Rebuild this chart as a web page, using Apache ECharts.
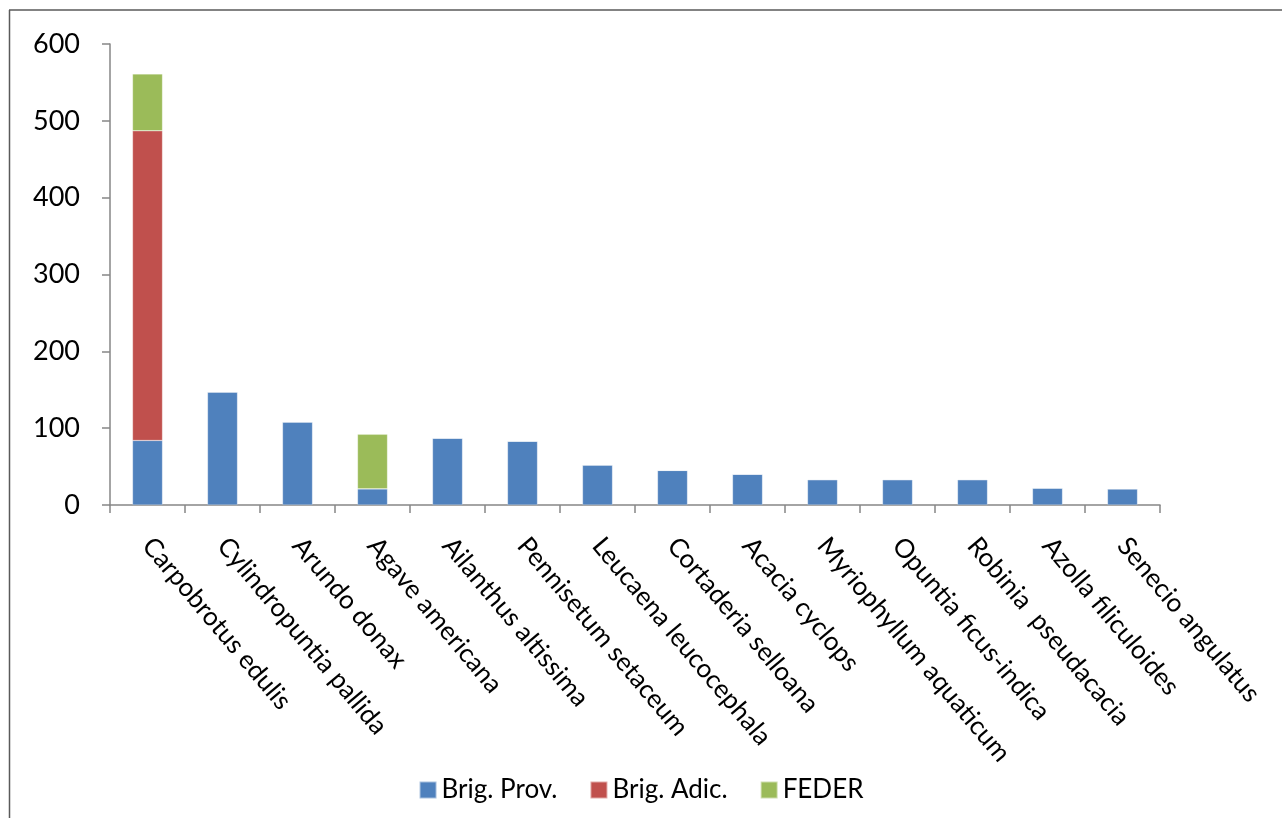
<!DOCTYPE html>
<html>
<head>
<meta charset="utf-8">
<script src="https://cdn.jsdelivr.net/npm/echarts@6/dist/echarts.min.js"></script>
<style>html,body{margin:0;padding:0;background:#fff;}#c{width:1282px;height:818px;}</style>
</head>
<body>
<div id="c"></div>
<script>
const categories = ["Carpobrotus edulis","Cylindropuntia pallida","Arundo donax","Agave americana","Ailanthus altissima","Pennisetum setaceum","Leucaena leucocephala","Cortaderia selloana","Acacia cyclops","Myriophyllum aquaticum","Opuntia ficus-indica","Robinia  pseudacacia","Azolla filiculoides","Senecio angulatus"];
const brigProv = [84, 147, 108, 21, 87, 83, 52, 45, 40, 33, 33, 33, 22, 21];
const brigAdic = [403, 0, 0, 0, 0, 0, 0, 0, 0, 0, 0, 0, 0, 0];
const feder    = [74, 0, 0, 71, 0, 0, 0, 0, 0, 0, 0, 0, 0, 0];
const seriesNames = ["Brig. Prov.", "Brig. Adic.", "FEDER"];
const yTicks = [0, 100, 200, 300, 400, 500, 600];

const font = "Lato, 'Open Sans', 'Noto Sans', sans-serif";
const chart = echarts.init(document.getElementById('c'));
const mk = (name, data, color) => ({
  name, type: 'bar', stack: 's', data, barWidth: '40%',
  itemStyle: { color, borderColor: 'rgba(255,255,255,0.5)', borderWidth: 0.5 },
  silent: true
});
chart.setOption({
  animation: false,
  backgroundColor: '#fff',
  grid: { left: 110, right: 122, top: 44, bottom: 313, containLabel: false },
  legend: {
    bottom: 10, left: 'center', itemWidth: 17, itemHeight: 17, itemGap: 32,
    icon: 'rect',
    textStyle: { fontFamily: font, fontSize: 26, color: '#000' },
    data: seriesNames
  },
  xAxis: {
    type: 'category', data: categories,
    axisLine: { lineStyle: { color: '#868686', width: 1.5 } },
    axisTick: { show: true, length: 8, alignWithLabel: false, lineStyle: { color: '#868686', width: 1.5 } },
    axisLabel: { rotate: -50, interval: 0, fontFamily: font, fontSize: 26, color: '#000', margin: 36 }
  },
  yAxis: {
    type: 'value', min: 0, max: 600, interval: 100,
    axisLine: { show: true, lineStyle: { color: '#868686', width: 1.5 } },
    axisTick: { show: true, length: 8, inside: false, lineStyle: { color: '#868686', width: 1.5 } },
    splitLine: { show: false },
    axisLabel: { fontFamily: font, fontSize: 27, color: '#000', margin: 30,
      formatter: v => yTicks.includes(v) ? String(v) : '' }
  },
  graphic: [
    { type: 'line', shape: { x1: 9, y1: 10, x2: 1282, y2: 10 }, style: { stroke: '#5a5a5a', lineWidth: 1.5 } },
    { type: 'line', shape: { x1: 9.5, y1: 10, x2: 9.5, y2: 818 }, style: { stroke: '#5a5a5a', lineWidth: 1.5 } }
  ],
  series: [
    mk(seriesNames[0], brigProv, '#4f81bd'),
    mk(seriesNames[1], brigAdic, '#c0504d'),
    mk(seriesNames[2], feder, '#9bbb59')
  ]
});
</script>
</body>
</html>
